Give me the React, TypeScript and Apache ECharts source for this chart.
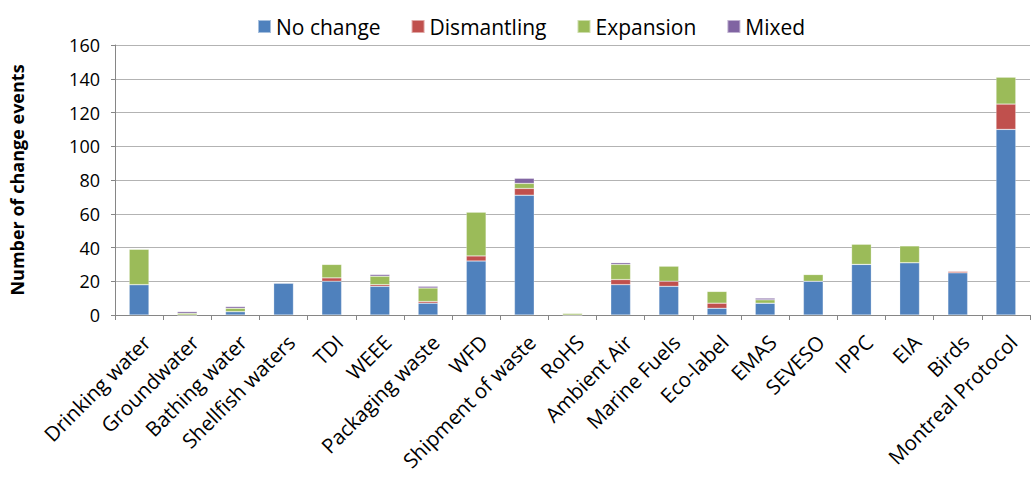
import React, { useEffect, useRef } from "react";
import * as echarts from "echarts";

const categories = [
  "Drinking water", "Groundwater", "Bathing water", "Shellfish waters", "TDI", "WEEE",
  "Packaging waste", "WFD", "Shipment of waste", "RoHS", "Ambient Air", "Marine Fuels",
  "Eco-label", "EMAS", "SEVESO", "IPPC", "EIA", "Birds", "Montreal Protocol",
];
const noChange =    [18, 0, 2, 19, 20, 17, 7, 32, 71, 0, 18, 17, 4, 7, 20, 30, 31, 25, 110];
const dismantling = [0, 0, 0, 0, 2, 1, 1, 3, 4, 0, 3, 3, 3, 0, 0, 0, 0, 1, 15];
const expansion =   [21, 1, 2, 0, 8, 5, 8, 26, 3, 1, 9, 9, 7, 2, 4, 12, 10, 0, 16];
const mixed =       [0, 1, 1, 0, 0, 1, 1, 0, 3, 0, 1, 0, 0, 1, 0, 0, 0, 0, 0];
const yTicks = { min: 0, max: 160, interval: 20 };

const FONT = "'Open Sans', 'Liberation Sans', sans-serif";

export default function App() {
  const ref = useRef<HTMLDivElement>(null);
  useEffect(() => {
    if (!ref.current) return;
    document.body.style.margin = "0";
    const chart = echarts.init(ref.current, undefined, { renderer: "svg" });
    const mk = (name: string, data: number[], color: string) => ({
      name,
      type: "bar",
      stack: "total",
      data,
      barWidth: "41%",
      itemStyle: { color, borderColor: "rgba(255,255,255,0.5)", borderWidth: 0.5 },
    });
    chart.setOption({
      animation: false,
      textStyle: { fontFamily: FONT },
      legend: {
        top: 11,
        left: 252,
        itemWidth: 13,
        itemHeight: 13,
        itemGap: 30,
        icon: "rect",
        textStyle: { fontSize: 21, color: "#000", fontFamily: FONT },
        data: ["No change", "Dismantling", "Expansion", "Mixed"],
      },
      grid: { left: 109, right: 5, top: 45, bottom: 162, containLabel: false },
      xAxis: {
        type: "category",
        data: categories,
        axisLine: { lineStyle: { color: "#868686" } },
        axisTick: { show: true, alignWithLabel: false, length: 5, lineStyle: { color: "#868686" } },
        axisLabel: {
          rotate: 45,
          interval: 0,
          fontSize: 20.5,
          color: "#000",
          margin: 16,
          verticalAlign: "top",
          fontFamily: FONT,
        },
      },
      yAxis: {
        type: "value",
        min: yTicks.min,
        max: yTicks.max,
        interval: yTicks.interval,
        name: "Number of change events",
        nameLocation: "middle",
        nameGap: 89,
        nameTextStyle: { fontSize: 18, fontWeight: "bold", color: "#000", fontFamily: FONT },
        axisLine: { show: true, lineStyle: { color: "#868686" } },
        axisTick: { show: true, length: 4, lineStyle: { color: "#868686" } },
        axisLabel: { fontSize: 18, color: "#000", margin: 15, fontFamily: FONT },
        splitLine: { lineStyle: { color: "#b3b3b3" } },
      },
      series: [
        mk("No change", noChange, "#4F81BD"),
        mk("Dismantling", dismantling, "#C0504D"),
        mk("Expansion", expansion, "#9BBB59"),
        mk("Mixed", mixed, "#8064A2"),
      ],
    });
    return () => chart.dispose();
  }, []);
  return <div ref={ref} style={{ width: 1035, height: 477 }} />;
}
